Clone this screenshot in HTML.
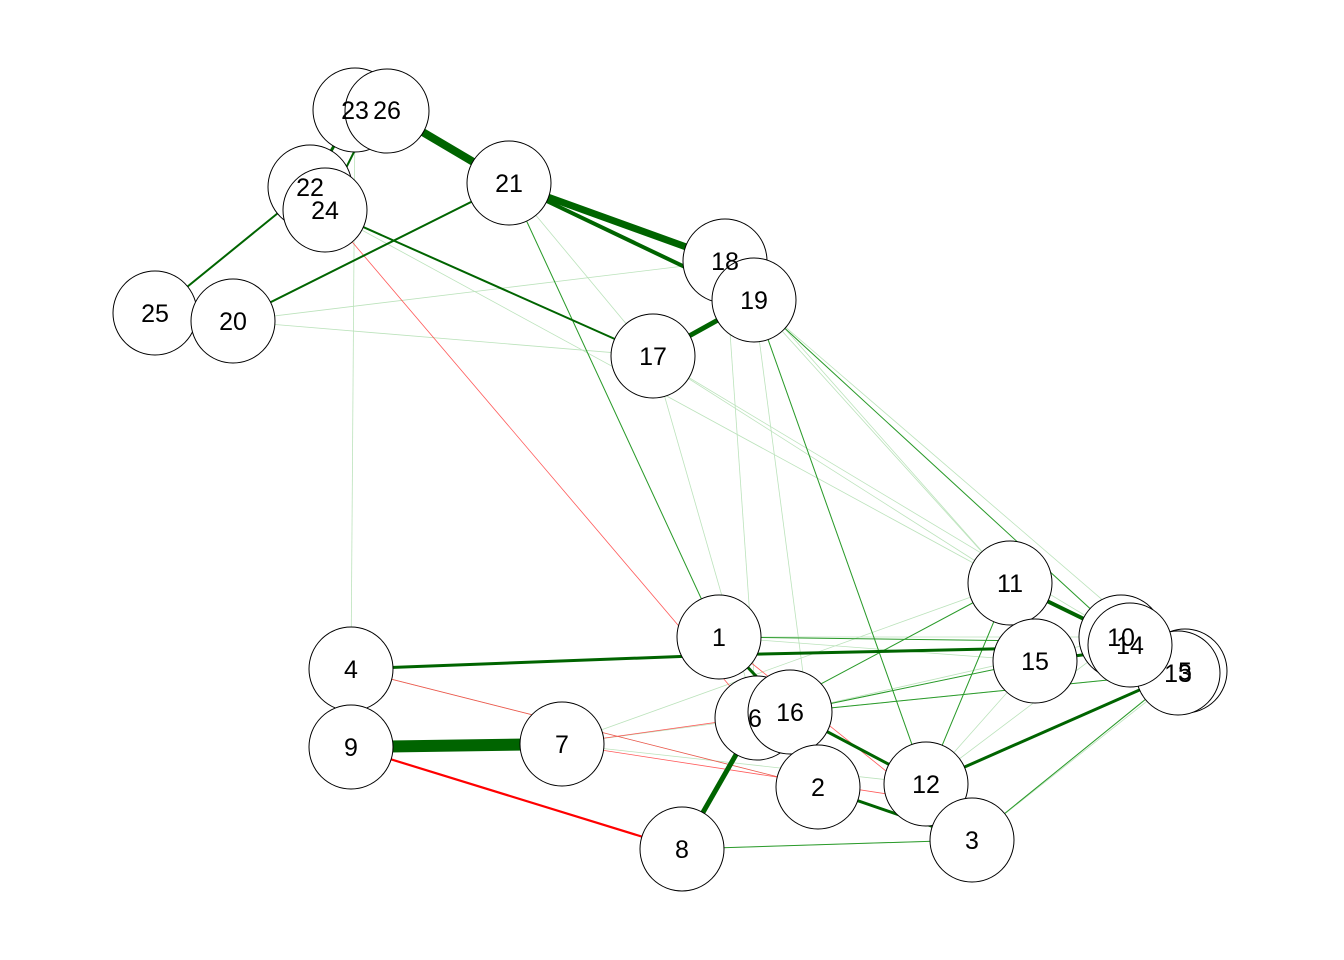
<!DOCTYPE html>
<html><head><meta charset="utf-8"><style>html,body{margin:0;padding:0;background:#fff}svg{display:block}</style></head>
<body>
<svg width="1344" height="960" viewBox="0 0 1344 960" xmlns="http://www.w3.org/2000/svg">
<g fill="none" stroke-linecap="butt">
<!-- faint edges -->
<g stroke="#8fd08f" stroke-width="0.8" opacity="0.6">
<line x1="509" y1="183" x2="719" y2="637"/>
<line x1="509" y1="183" x2="653" y2="356"/>
<line x1="754" y1="300" x2="1010" y2="583"/>
<line x1="754" y1="300" x2="1121" y2="637"/>
<line x1="754" y1="300" x2="1185" y2="671"/>
<line x1="754" y1="300" x2="926" y2="784"/>
<line x1="754" y1="300" x2="818" y2="787"/>
<line x1="653" y1="356" x2="1121" y2="637"/>
<line x1="653" y1="356" x2="1010" y2="583"/>
<line x1="653" y1="356" x2="757" y2="718"/>
<line x1="725" y1="261" x2="1010" y2="583"/>
<line x1="725" y1="261" x2="757" y2="718"/>
<line x1="1010" y1="583" x2="757" y2="718"/>
<line x1="1010" y1="583" x2="926" y2="784"/>
<line x1="1010" y1="583" x2="562" y2="744"/>
<line x1="1035" y1="661" x2="790" y2="712"/>
<line x1="1035" y1="661" x2="926" y2="784"/>
<line x1="1178" y1="673" x2="790" y2="712"/>
<line x1="1178" y1="673" x2="972" y2="840"/>
<line x1="1185" y1="671" x2="972" y2="840"/>
<line x1="1121" y1="637" x2="790" y2="712"/>
<line x1="1121" y1="637" x2="926" y2="784"/>
<line x1="682" y1="849" x2="972" y2="840"/>
<line x1="562" y1="744" x2="757" y2="718"/>
<line x1="562" y1="744" x2="926" y2="784"/>
<line x1="351" y1="669" x2="818" y2="787"/>
<line x1="719" y1="637" x2="1121" y2="637"/>
<line x1="719" y1="637" x2="1035" y2="661"/>
<line x1="233" y1="321" x2="653" y2="356"/>
<line x1="325" y1="210" x2="1010" y2="583"/>
<line x1="351" y1="669" x2="355" y2="110"/>
<line x1="233" y1="321" x2="725" y2="261"/>
</g>
<g stroke="#2a9a2a" stroke-width="1">
<line x1="509" y1="183" x2="719" y2="637"/>
<line x1="754" y1="300" x2="1121" y2="637"/>
<line x1="754" y1="300" x2="926" y2="784"/>
<line x1="1010" y1="583" x2="757" y2="718"/>
<line x1="1035" y1="661" x2="790" y2="712"/>
<line x1="1178" y1="673" x2="790" y2="712"/>
<line x1="1178" y1="673" x2="972" y2="840"/>
<line x1="682" y1="849" x2="972" y2="840"/>
<line x1="1010" y1="583" x2="926" y2="784"/>
<line x1="719" y1="637" x2="1035" y2="641"/>
</g>
<g stroke="#ff3030" stroke-width="0.8" opacity="0.8">
<line x1="325" y1="210" x2="757" y2="718"/>
<line x1="351" y1="669" x2="818" y2="787"/>
<line x1="562" y1="744" x2="790" y2="712"/>
<line x1="719" y1="637" x2="972" y2="840"/>
<line x1="562" y1="744" x2="926" y2="800"/>
</g>
<!-- strong edges -->
<g stroke="#006400">
<line x1="351" y1="747" x2="562" y2="744" stroke-width="12"/>
<line x1="387" y1="111" x2="509" y2="183" stroke-width="8"/>
<line x1="509" y1="183" x2="725" y2="261" stroke-width="7"/>
<line x1="509" y1="183" x2="754" y2="300" stroke-width="4"/>
<line x1="754" y1="300" x2="653" y2="356" stroke-width="5"/>
<line x1="351" y1="669" x2="719" y2="655" stroke-width="3"/>
<line x1="719" y1="655" x2="1035" y2="648" stroke-width="3"/>
<line x1="682" y1="849" x2="757" y2="718" stroke-width="5"/>
<line x1="155" y1="313" x2="310" y2="187" stroke-width="2"/>
<line x1="233" y1="321" x2="509" y2="183" stroke-width="2"/>
<line x1="325" y1="210" x2="653" y2="356" stroke-width="2"/>
<line x1="325" y1="210" x2="370" y2="120" stroke-width="2"/>
<line x1="310" y1="187" x2="355" y2="110" stroke-width="3"/>
<line x1="1010" y1="583" x2="1121" y2="637" stroke-width="4"/>
<line x1="926" y1="784" x2="1178" y2="673" stroke-width="3"/>
<line x1="790" y1="712" x2="926" y2="784" stroke-width="3"/>
<line x1="818" y1="787" x2="972" y2="840" stroke-width="3"/>
<line x1="719" y1="637" x2="790" y2="712" stroke-width="3"/>
<line x1="1035" y1="661" x2="1121" y2="650" stroke-width="3"/>
</g>
<line x1="351" y1="747" x2="682" y2="849" stroke="#ff0000" stroke-width="2.2"/>
</g>
<g fill="#fff" stroke="#000" stroke-width="1">
<circle cx="355" cy="110" r="42"/><circle cx="387" cy="111" r="42"/>
<circle cx="310" cy="187" r="42"/><circle cx="325" cy="210" r="42"/>
<circle cx="509" cy="183" r="42"/>
<circle cx="725" cy="261" r="42"/><circle cx="754" cy="300" r="42"/>
<circle cx="155" cy="313" r="42"/><circle cx="233" cy="321" r="42"/>
<circle cx="653" cy="356" r="42"/>
<circle cx="1010" cy="583" r="42"/>
<circle cx="719" cy="637" r="42"/>
<circle cx="1185" cy="671" r="42"/><circle cx="1178" cy="673" r="42"/>
<circle cx="1121" cy="637" r="42"/><circle cx="1130" cy="645" r="42"/>
<circle cx="1035" cy="661" r="42"/>
<circle cx="351" cy="669" r="42"/>
<circle cx="757" cy="718" r="42"/><circle cx="790" cy="712" r="42"/>
<circle cx="351" cy="747" r="42"/><circle cx="562" cy="744" r="42"/>
<circle cx="818" cy="787" r="42"/>
<circle cx="926" cy="784" r="42"/>
<circle cx="972" cy="840" r="42"/>
<circle cx="682" cy="849" r="42"/>
</g>
<g font-family="Liberation Sans, Arial, sans-serif" font-size="25" fill="#000" text-anchor="middle" dominant-baseline="central">
<text x="355" y="111">23</text><text x="387" y="111">26</text>
<text x="310" y="188">22</text><text x="325" y="211">24</text>
<text x="509" y="184">21</text>
<text x="725" y="262">18</text><text x="754" y="301">19</text>
<text x="155" y="314">25</text><text x="233" y="322">20</text>
<text x="653" y="357">17</text>
<text x="1010" y="584">11</text>
<text x="719" y="638">1</text>
<text x="1185" y="672">5</text><text x="1178" y="674">13</text>
<text x="1121" y="638">10</text><text x="1130" y="646">14</text>
<text x="1035" y="662">15</text>
<text x="351" y="670">4</text>
<text x="755" y="719">6</text><text x="790" y="713">16</text>
<text x="351" y="748">9</text><text x="562" y="745">7</text>
<text x="818" y="788">2</text>
<text x="926" y="785">12</text>
<text x="972" y="841">3</text>
<text x="682" y="850">8</text>
</g>
</svg>
</body></html>
